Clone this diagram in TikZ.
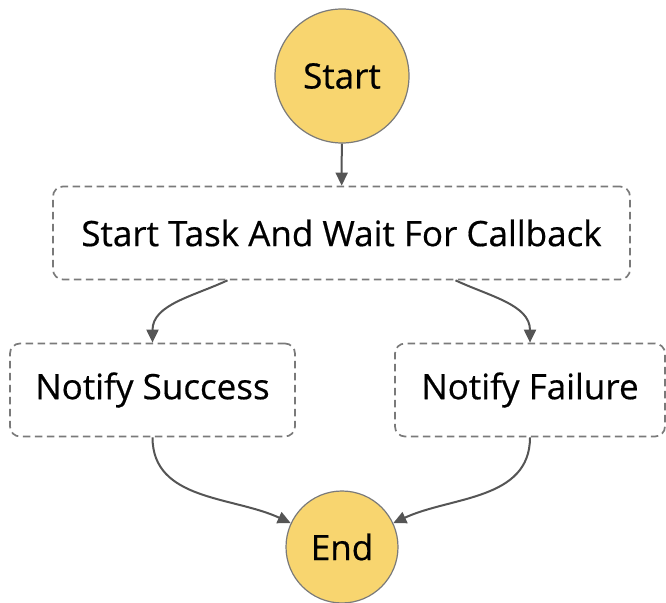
\documentclass[tikz,border=0pt]{standalone}
\usepackage{fontspec}
\setmainfont{Open Sans}
\newfontfamily\statefont{Open Sans}[FakeBold=0.5]
\usetikzlibrary{arrows.meta}
\definecolor{stateyellow}{HTML}{F8D56F}
\definecolor{stateline}{HTML}{7A7A7A}
\definecolor{arrowgray}{HTML}{555555}
\definecolor{dashgray}{HTML}{7A7A7A}
\begin{document}
\begin{tikzpicture}[x=1pt,y=1pt]
  \useasboundingbox (0,0) rectangle (666,602);
  \begin{scope}[every node/.style={circle,draw=stateline,line width=1.2pt,fill=stateyellow,text=black,font=\statefont\fontsize{35}{40}\selectfont,inner sep=0pt}]
    \node[minimum size=134pt] (start) at (342,526) {Start};
    \node[minimum size=112pt] (end) at (342,55) {End};
  \end{scope}
  \begin{scope}[every node/.style={rectangle,rounded corners=10pt,draw=dashgray,line width=1.7pt,dash pattern=on 7.5pt off 4.5pt,text=black,font=\statefont\fontsize{35}{40}\selectfont,minimum height=93pt,inner sep=0pt}]
    \node[minimum width=577pt] (task) at (341.5,369) {Start Task And Wait For Callback};
    \node[minimum width=285pt] (success) at (152.5,212) {Notify Success};
    \node[minimum width=270pt] (failure) at (530,212) {Notify Failure};
  \end{scope}
  \begin{scope}[every edge/.style={draw=arrowgray,line width=2pt,-{Triangle[length=13pt,width=12pt]}}]
    \path (start) edge (task);
    \path ([xshift=-114pt]task.south) edge[out=-155,in=90] (success.north);
    \path ([xshift=114pt]task.south) edge[out=-25,in=90] (failure.north);
    \path (success.south) edge[out=-90,in=155] (end);
    \path (failure.south) edge[out=-90,in=25] (end);
  \end{scope}
\end{tikzpicture}
\end{document}
